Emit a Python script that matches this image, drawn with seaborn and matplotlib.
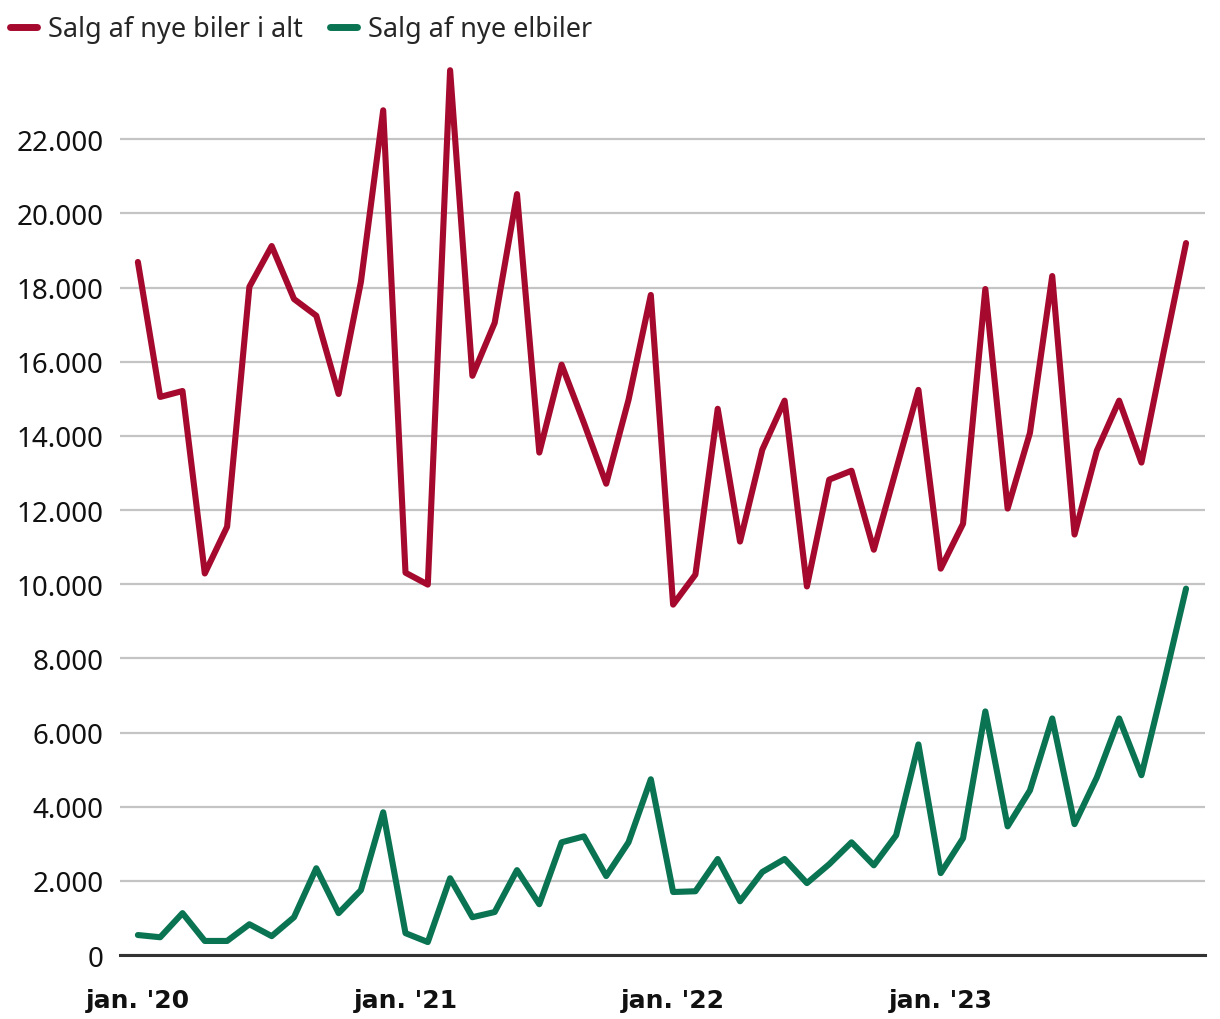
import seaborn as sns
import pandas as pd
import matplotlib.pyplot as plt
from matplotlib.ticker import FuncFormatter
from matplotlib.transforms import ScaledTranslation

# monthly sales, jan 2020 - dec 2023
months = list(range(48))
total_cars = [18690, 15050, 15210, 10290, 11550, 18020, 19120, 17690, 17240, 15130, 18150, 22780,
              10310, 9990, 23860, 15620, 17050, 20520, 13550, 15920, 14350, 12710, 14970, 17800,
              9450, 10260, 14730, 11150, 13630, 14950, 9940, 12820, 13060, 10930, 13090, 15240,
              10420, 11630, 17960, 12040, 14080, 18310, 11340, 13600, 14950, 13280, 16270, 19200]
electric_cars = [540, 480, 1130, 380, 380, 830, 510, 1020, 2340, 1130, 1750, 3850,
                 590, 350, 2070, 1020, 1160, 2290, 1370, 3040, 3200, 2130, 3040, 4740,
                 1700, 1720, 2590, 1450, 2240, 2590, 1940, 2450, 3040, 2420, 3230, 5680,
                 2210, 3150, 6570, 3470, 4440, 6380, 3530, 4790, 6380, 4850, 7320, 9880]
series_names = ['Salg af nye biler i alt', 'Salg af nye elbiler']
tick_pos = [0, 12, 24, 36]
tick_labels = ["jan. '20", "jan. '21", "jan. '22", "jan. '23"]
y_ticks = list(range(0, 22001, 2000))

df = pd.concat([
    pd.DataFrame({'month': months, 'value': total_cars, 'series': series_names[0]}),
    pd.DataFrame({'month': months, 'value': electric_cars, 'series': series_names[1]}),
])

sns.set_style('white')
plt.rcParams['font.family'] = ['Noto Sans', 'DejaVu Sans']

fig = plt.figure(figsize=(12.2, 10.2), dpi=100)
ax = fig.add_axes([0.0984, 0.0627, 0.8893, 0.878])

palette = {series_names[0]: '#a50a2e', series_names[1]: '#0a7452'}
sns.lineplot(data=df, x='month', y='value', hue='series', palette=palette,
             linewidth=4.4, ax=ax, legend=True)
for line in ax.lines:
    line.set_solid_capstyle('round')
    line.set_solid_joinstyle('round')

ax.set_xlim(-0.8, 47.85)
ax.set_ylim(0, 24150)
ax.set_yticks(y_ticks)
ax.yaxis.set_major_formatter(FuncFormatter(lambda v, p: f'{int(v):,}'.replace(',', '.')))
ax.set_xticks(tick_pos)
ax.set_xticklabels(tick_labels, fontweight='bold', fontsize=18,
                   family=['DejaVu Sans'])
# nudge month labels a little to the right, as in the original
shift = ScaledTranslation(6 / 100, 0, fig.dpi_scale_trans)
for lbl in ax.get_xticklabels():
    lbl.set_transform(lbl.get_transform() + shift)
ax.tick_params(axis='y', length=0, labelsize=20, pad=12, labelcolor='#111111')
ax.tick_params(axis='x', length=9, width=2, color='#333333', pad=15, labelcolor='#111111')
ax.grid(axis='y', color='#c4c4c4', linewidth=1.6)
ax.set_axisbelow(True)
ax.set_xlabel('')
ax.set_ylabel('')
for side in ['top', 'right', 'left']:
    ax.spines[side].set_visible(False)
ax.spines['bottom'].set_color('#333333')
ax.spines['bottom'].set_linewidth(2.2)
ax.spines['bottom'].set_zorder(5)

leg = ax.legend(loc='upper left', bbox_to_anchor=(-0.005, 1.0), bbox_transform=fig.transFigure,
                ncol=2, frameon=False, fontsize=19.5, handlelength=1.0, handletextpad=0.4,
                columnspacing=1.0, borderaxespad=0.2)
for h in leg.get_lines():
    h.set_linewidth(5)
    h.set_solid_capstyle('round')

fig.savefig('out.png', dpi=100)
